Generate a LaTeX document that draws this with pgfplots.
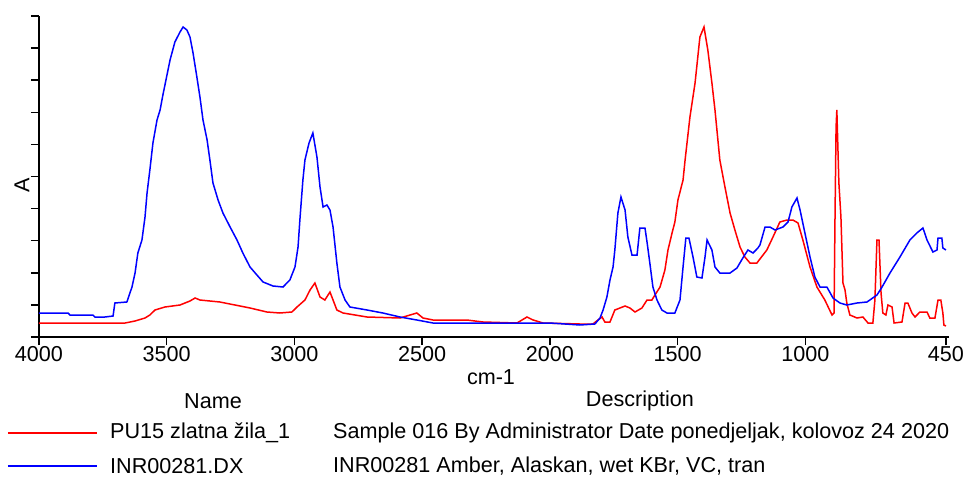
\documentclass[border=0pt]{standalone}
\usepackage{fontspec}
\setmainfont{Liberation Sans}
\usepackage{pgfplots}
\pgfplotsset{compat=1.18}
\usepackage{pgfplotstable}

% PU15 zlatna zila_1 (red)
\pgfplotstableread{
wn a
4000 14
3663 14
3624 16
3585 19
3566 22
3546 27
3507 30
3448 32
3409 36
3389 39
3370 37
3292 35
3174 29
3108 25
3057 24
3010 25
2990 30
2959 37
2939 47
2920 54
2900 40
2881 37
2861 45
2849 37
2834 27
2810 24
2716 20
2587 19
2521 24
2497 19
2458 17
2325 17
2262 15
2129 14
2090 20
2066 17
2027 14
1883 13
1832 13
1812 17
1796 20
1785 15
1765 15
1746 27
1726 29
1706 31
1687 29
1667 25
1640 29
1620 37
1601 37
1589 42
1569 50
1550 67
1538 87
1522 104
1511 115
1499 137
1479 157
1471 177
1452 220
1432 254
1413 300
1397 310
1382 287
1366 254
1354 227
1335 177
1315 150
1295 124
1276 107
1256 90
1237 80
1217 74
1190 74
1151 87
1127 100
1100 115
1072 117
1049 117
1029 114
1010 97
982 70
955 50
924 37
896 22
888 24
884 124
880 210
877 227
869 154
861 120
853 54
845 47
838 34
826 22
798 19
775 20
755 14
736 14
728 37
720 97
712 97
704 44
697 24
685 22
677 32
661 30
653 14
622 15
610 34
599 34
583 24
571 20
552 25
524 25
513 19
493 19
481 37
470 37
462 24
458 12
450 11
}\redtab

% INR00281.DX (blue)
\pgfplotstableread{
wn a
4000 24
3886 24
3879 22
3789 22
3781 20
3742 20
3710 21
3703 34
3656 35
3636 50
3624 64
3613 84
3597 97
3585 120
3577 144
3566 167
3554 194
3538 217
3526 227
3515 242
3499 262
3487 277
3468 295
3448 305
3436 310
3421 307
3409 300
3397 284
3382 260
3370 240
3358 217
3342 197
3331 177
3319 154
3299 137
3280 124
3252 110
3225 97
3202 84
3174 70
3147 62
3123 55
3084 51
3045 50
3018 57
2998 70
2986 90
2978 120
2967 157
2959 177
2943 194
2928 204
2912 180
2900 150
2888 130
2873 132
2861 127
2849 110
2834 74
2822 50
2802 37
2783 30
2716 27
2654 24
2587 20
2521 17
2458 14
2262 14
2129 14
2000 14
1883 12
1824 13
1804 19
1792 27
1777 40
1765 57
1753 70
1746 87
1734 124
1722 140
1706 127
1695 100
1679 82
1659 82
1648 109
1628 109
1620 95
1609 74
1597 50
1581 37
1562 27
1542 24
1511 24
1491 37
1479 70
1468 99
1456 99
1440 80
1425 60
1405 59
1393 80
1385 97
1366 87
1354 70
1335 64
1295 64
1268 69
1245 79
1225 87
1205 84
1186 89
1178 92
1158 110
1139 110
1119 107
1088 110
1068 115
1053 130
1033 139
1021 127
1002 104
982 80
963 60
943 50
916 50
892 39
865 34
838 32
798 34
759 35
720 42
700 50
669 64
630 80
591 97
564 104
540 109
524 97
501 85
485 87
481 99
466 99
462 89
450 87
}\bluetab

\begin{document}
\begin{tikzpicture}[x=1pt,y=1pt,font=\fontsize{21.6}{26}\selectfont]
\useasboundingbox (-39,-140) rectangle (929,337);
\begin{axis}[
    at={(0,0)}, anchor=south west,
    scale only axis, width=910pt, height=321pt,
    x dir=reverse, xmin=438, xmax=4000,
    ymin=0, ymax=321,
    axis x line*=bottom, axis y line*=left,
    axis line style={black, line width=1.8pt},
    every tick/.style={black, line width=1.5pt},
    tick align=outside, major tick length=8pt,
    xtick={4000,3500,3000,2500,2000,1500,1000,450},
    ytick={0,32.1,64.2,96.3,128.4,160.5,192.6,224.7,256.8,288.9,321},
    yticklabels={},
    /pgf/number format/assume math mode=true,
    /pgf/number format/set thousands separator={},
    ticklabel style={font=\fontsize{21.6}{26}\selectfont},
    xticklabel style={yshift=2pt},
    clip=false,
]
\addplot[red, line width=1.5pt] table[x=wn, y=a] {\redtab};
\addplot[blue, line width=1.5pt] table[x=wn, y=a] {\bluetab};
\end{axis}
\node[rotate=90] at (-17,152) {A};
\node at (452,-40) {cm-1};
\node at (174,-64) {Name};
\node at (601,-64) {Description};
\draw[red, line width=2pt] (-31,-96) -- (58,-96);
\draw[blue, line width=2pt] (-31,-129) -- (58,-129);
\node[anchor=west, inner sep=0pt] at (71,-96) {PU15 zlatna žila\_1};
\node[anchor=west, inner sep=0pt] at (294,-96) {Sample 016 By Administrator Date ponedjeljak, kolovoz 24 2020};
\node[anchor=west, inner sep=0pt] at (71,-129) {INR00281.DX};
\node[anchor=west, inner sep=0pt] at (294,-129) {INR00281 Amber, Alaskan, wet KBr, VC, tran};
\end{tikzpicture}
\end{document}
